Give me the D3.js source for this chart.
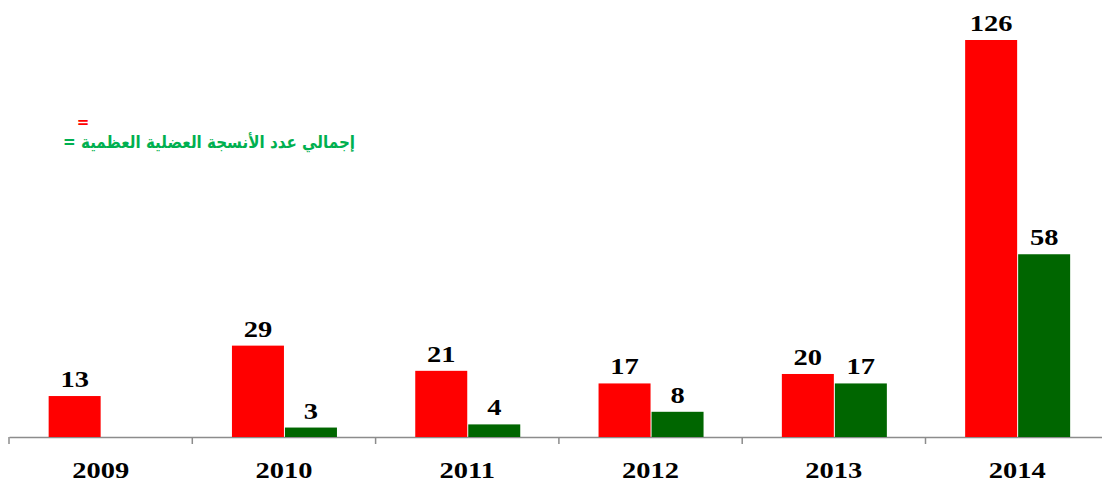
<!DOCTYPE html>
<html>
<head>
<meta charset="utf-8">
<script src="https://d3js.org/d3.v7.min.js"></script>
<style>
body { margin: 0; background: #fff; }
</style>
</head>
<body>
<script>
var width = 1102, height = 482;

var years = ["2009", "2010", "2011", "2012", "2013", "2014"];
var redValues = [13, 29, 21, 17, 20, 126];
var greenValues = [null, 3, 4, 8, 17, 58];
var legendGreen = "إجمالي عدد الأنسجة العضلية العظمية =";
var legendRed = "=";

var baseline = 437, barTop = 40;
var bandLeft = 9, bandStep = 183.3, barWidth = 52;
var numFont = "'Liberation Serif', 'Times New Roman', serif";
var numSize = 23, numStretch = 1.24;

var svg = d3.select("body")
	.append("svg")
	.attr("width", width)
	.attr("height", height);

var x = d3.scaleBand()
	.domain(years)
	.range([bandLeft, bandLeft + bandStep * years.length])
	.padding(0);

var y = d3.scaleLinear()
	.domain([0, 126])
	.range([baseline, barTop]);

// axis line, labels drawn wide like the original
var axis = d3.axisBottom(x).tickSize(0);
var gx = svg.append("g")
	.attr("transform", "translate(0," + baseline + ")")
	.call(axis);
gx.select(".domain").attr("stroke", "#8c8c8c").attr("stroke-width", 1.5);
gx.selectAll(".tick text")
	.attr("y", 0)
	.attr("dy", 0)
	.attr("transform", "translate(0,41) scale(" + numStretch + ",1)")
	.attr("font-family", numFont)
	.attr("font-weight", "bold")
	.attr("font-size", numSize)
	.attr("fill", "black");

// tick marks sit on the band edges
svg.append("g").selectAll("line")
	.data(years)
	.enter()
	.append("line")
	.attr("x1", function(d){ return x(d); })
	.attr("x2", function(d){ return x(d); })
	.attr("y1", baseline)
	.attr("y2", baseline + 7)
	.attr("stroke", "#8c8c8c")
	.attr("stroke-width", 1.5);

function center(d){ return x(d) + x.bandwidth() / 2; }

var rows = years.map(function(d, i){ return {year: d, red: redValues[i], green: greenValues[i]}; });
var greenRows = rows.filter(function(d){ return d.green != null; });

svg.selectAll("rect.red")
	.data(rows)
	.enter()
	.append("rect")
	.attr("class", "red")
	.attr("x", function(d){ return center(d.year) - barWidth; })
	.attr("y", function(d){ return y(d.red); })
	.attr("width", barWidth)
	.attr("height", function(d){ return baseline - y(d.red); })
	.attr("fill", "#ff0000");

svg.selectAll("rect.green")
	.data(greenRows)
	.enter()
	.append("rect")
	.attr("class", "green")
	.attr("x", function(d){ return center(d.year) + 1; })
	.attr("y", function(d){ return y(d.green); })
	.attr("width", barWidth)
	.attr("height", function(d){ return baseline - y(d.green); })
	.attr("fill", "#006600");

function valueLabels(data, cls, cx, val){
	svg.selectAll("text." + cls)
		.data(data)
		.enter()
		.append("text")
		.attr("class", cls)
		.attr("transform", function(d){
			return "translate(" + cx(d) + "," + (y(val(d)) - 9) + ") scale(" + numStretch + ",1)";
		})
		.attr("text-anchor", "middle")
		.attr("font-family", numFont)
		.attr("font-weight", "bold")
		.attr("font-size", numSize)
		.attr("fill", "black")
		.text(val);
}

valueLabels(rows, "redlabel",
	function(d){ return center(d.year) - barWidth / 2; },
	function(d){ return d.red; });
valueLabels(greenRows, "greenlabel",
	function(d){ return center(d.year) + 1 + barWidth / 2; },
	function(d){ return d.green; });

// legend
svg.append("text")
	.attr("x", 83)
	.attr("y", 127)
	.attr("text-anchor", "middle")
	.attr("font-family", "'DejaVu Sans', sans-serif")
	.attr("font-weight", "bold")
	.attr("font-size", 15)
	.attr("fill", "#ff0000")
	.text(legendRed);

svg.append("text")
	.attr("x", 355)
	.attr("y", 148)
	.attr("direction", "rtl")
	.attr("text-anchor", "start")
	.attr("font-family", "'DejaVu Sans', sans-serif")
	.attr("font-weight", "bold")
	.attr("font-size", 17)
	.attr("textLength", 292)
	.attr("lengthAdjust", "spacingAndGlyphs")
	.attr("fill", "#00b050")
	.text(legendGreen);
</script>
</body>
</html>
